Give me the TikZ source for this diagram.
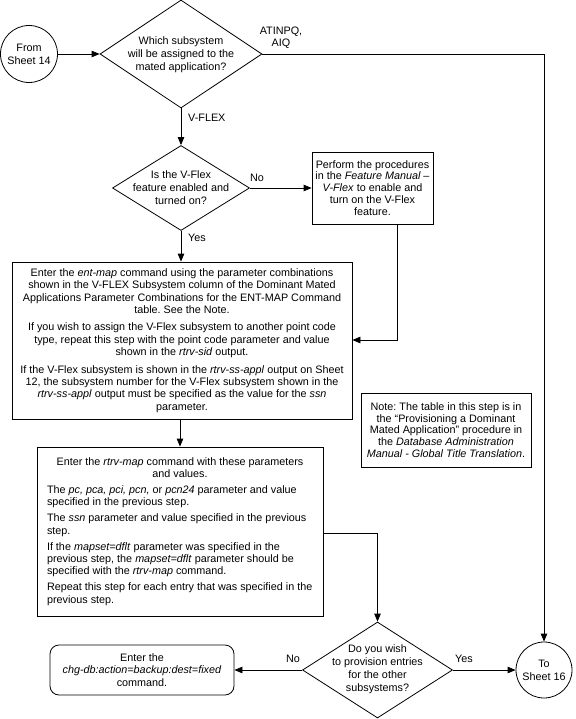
\documentclass[tikz,border=0pt]{standalone}
\usepackage{fontspec}
\setmainfont{Liberation Sans}
\usetikzlibrary{arrows.meta,shapes.geometric}
\frenchspacing
\begin{document}
\begin{tikzpicture}[x=1pt,y=-1pt,
  every node/.style={font=\fontsize{10.8}{12.4}\selectfont, text=black},
  line/.style={draw=black, line width=0.8pt},
  arr/.style={line, -{Triangle[length=8pt,width=6.5pt]}},
  dia/.style={shape=diamond, draw=black, line width=0.8pt, fill=white, inner sep=0pt},
  dtext/.style={align=center, font=\fontsize{10.8}{13}\selectfont, inner sep=0pt},
  box/.style={rectangle, draw=black, line width=0.8pt, fill=white, inner sep=0pt},
  term/.style={circle, draw=black, line width=0.8pt, fill=white, inner sep=0pt, minimum size=57pt, align=center, font=\fontsize{10.8}{13}\selectfont},
  lbl/.style={inner sep=0pt, align=center}
]
\useasboundingbox[fill=white] (0,0) rectangle (575,719);

% top row
\node[term] (a) at (29,54) {From\\Sheet 14};
\node[dia, minimum width=162pt, minimum height=108pt] (d1) at (181,54) {};
\node[dtext] (d1t) at (181,55) {Which subsystem\\will be assigned to the\\mated application?};
\node[lbl] (atl) at (281,38) {ATINPQ,\\AIQ};
\node[lbl, anchor=west] (vfl) at (188,118) {V-FLEX};

% second row
\node[dia, minimum width=137pt, minimum height=85pt] (d2) at (181,188) {};
\node[dtext] (d2t) at (181,188) {Is the V-Flex\\feature enabled and\\turned on?};
\node[lbl] (nol) at (257,178) {No};
\node[lbl, anchor=west] (yesl) at (188,238) {Yes};
\node[box, minimum width=121pt, minimum height=72pt, align=center, font=\fontsize{10.8}{11.9}\selectfont] (p) at (372.5,188) {Perform the procedures\\in the \textit{Feature Manual –}\\\textit{V-Flex} to enable and\\turn on the V-Flex\\feature.};

% big box
\node[box, minimum width=340pt, minimum height=157pt, align=center] (b1) at (182,340.5) {Enter the \textit{ent-map} command using the parameter combinations\\
shown in the V-FLEX Subsystem column of the Dominant Mated\\
Applications Parameter Combinations for the ENT-MAP Command\\
table. See the Note.\\[5pt]
If you wish to assign the V-Flex subsystem to another point code\\
type, repeat this step with the point code parameter and value\\
shown in the \textit{rtrv-sid} output.\\[5pt]
If the V-Flex subsystem is shown in the \textit{rtrv-ss-appl} output on Sheet\\
12, the subsystem number for the V-Flex subsystem shown in the\\
\textit{rtrv-ss-appl} output must be specified as the value for the \textit{ssn}\\
parameter.};

% note
\node[box, minimum width=170pt, minimum height=74pt, align=center, font=\fontsize{10.8}{11.7}\selectfont] (n) at (446,430) {Note: The table in this step is in\\
the “Provisioning a Dominant\\
Mated Application” procedure in\\
the \textit{Database Administration}\\
\textit{Manual - Global Title Translation}.};

% lower box
\node[box, minimum width=286pt, minimum height=169pt, align=left] (l) at (180,531.5) {\makebox[266pt][c]{Enter the \textit{rtrv-map} command with these parameters}\\
\makebox[266pt][c]{and values.}\\[3.5pt]
The \textit{pc, pca, pci, pcn,} or \textit{pcn24} parameter and value\\
specified in the previous step.\\[3.5pt]
The \textit{ssn} parameter and value specified in the previous\\
step.\\[3.5pt]
If the \textit{mapset=dflt} parameter was specified in the\\
previous step, the \textit{mapset=dflt} parameter should be\\
specified with the \textit{rtrv-map} command.\\[3.5pt]
Repeat this step for each entry that was specified in the\\
previous step.};

% bottom row
\node[box, rounded corners=9pt, minimum width=184pt, minimum height=50pt, align=center] (r) at (142,670) {Enter the\\\textit{chg-db:action=backup:dest=fixed}\\command.};
\node[dia, minimum width=150pt, minimum height=96pt] (d3) at (377.5,670) {};
\node[dtext] (d3t) at (377.5,669) {Do you wish\\to provision entries\\for the other\\subsystems?};
\node[lbl] (no3) at (293,659) {No};
\node[lbl] (yes3) at (464,659) {Yes};
\node[term, minimum size=56pt] (bt) at (544,670) {To\\Sheet 16};

% connectors
\coordinate (pb) at (397,340);
\coordinate (lc) at (377.5,533);
\draw[arr] (a.east) -- (d1.west);
\draw[arr] (d1.east) -| (bt.north);
\draw[arr] (d1.south) -- (d2.north);
\draw[arr] (d2.east) -- (d2.east -| p.west);
\draw[arr] (d2.south) -- (d2.south |- b1.north);
\draw[arr] (p.south -| pb) -- (pb) -- (pb -| b1.east);
\draw[arr] (l.north |- b1.south) -- (l.north);
\draw[arr] (lc -| l.east) -- (lc) -- (d3.north);
\draw[arr] (d3.west) -- (d3.west -| r.east);
\draw[arr] (d3.east) -- (bt.west);
\end{tikzpicture}
\end{document}
